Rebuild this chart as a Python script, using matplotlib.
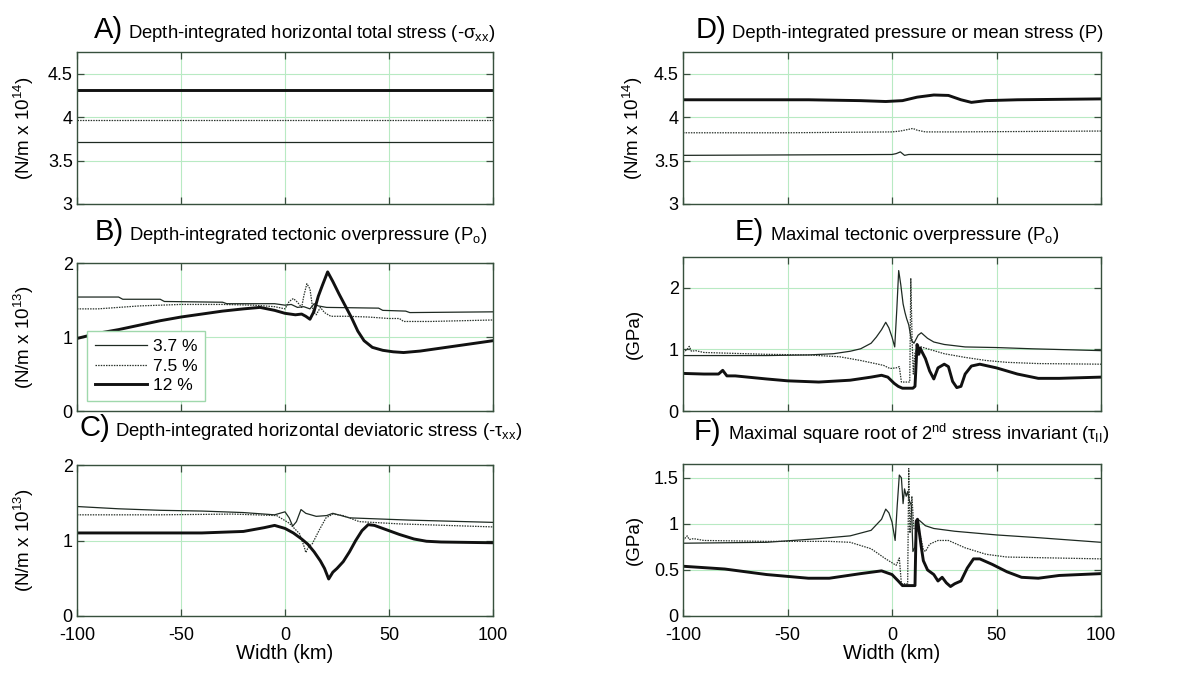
import matplotlib
matplotlib.use("Agg")
import matplotlib.pyplot as plt
from matplotlib.ticker import FuncFormatter

plt.rcParams['font.family'] = ['Liberation Sans', 'DejaVu Sans']
plt.rcParams['mathtext.fontset'] = 'custom'
plt.rcParams['mathtext.rm'] = 'Liberation Sans'
plt.rcParams['mathtext.it'] = 'Liberation Sans'
plt.rcParams['mathtext.default'] = 'regular'
plt.rcParams['axes.unicode_minus'] = False

# ---------------- data ----------------
labels = ["3.7 %", "7.5 %", "12 %"]

# A) depth-integrated horizontal total stress (N/m x 1e14)
a_x = [-100, 100]
a_37 = [3.71, 3.71]
a_75 = [3.97, 3.97]
a_12 = [4.31, 4.31]

# B) depth-integrated tectonic overpressure (N/m x 1e13)
b37_x = [-100, -80, -78, -60, -58, -30, -28, -5, 0, 3, 6, 9, 12, 14, 16, 20, 45, 47, 58, 60, 100]
b37_y = [1.54, 1.54, 1.51, 1.51, 1.48, 1.47, 1.45, 1.45, 1.43, 1.44, 1.40, 1.41, 1.38, 1.45, 1.42, 1.40, 1.39, 1.36, 1.35, 1.33, 1.34]
b75_x = [-100, -90, -70, -50, -30, -15, -5, 0, 2, 4, 6, 8, 9, 10.5, 12, 13.5, 15, 17, 19, 22, 30, 40, 50, 55, 57, 70, 100]
b75_y = [1.38, 1.38, 1.42, 1.44, 1.44, 1.43, 1.41, 1.38, 1.48, 1.52, 1.47, 1.40, 1.55, 1.72, 1.65, 1.35, 1.30, 1.40, 1.33, 1.28, 1.28, 1.27, 1.25, 1.25, 1.21, 1.21, 1.23]
b12_x = [-100, -90, -80, -70, -60, -50, -40, -30, -20, -12, -5, 0, 5, 8, 10, 12, 14, 16, 18, 20.5, 23, 26, 29, 32, 35, 38, 42, 47, 52, 57, 65, 75, 85, 100]
b12_y = [0.98, 1.05, 1.10, 1.16, 1.22, 1.27, 1.31, 1.35, 1.38, 1.40, 1.36, 1.32, 1.30, 1.31, 1.28, 1.24, 1.35, 1.55, 1.70, 1.88, 1.75, 1.58, 1.42, 1.26, 1.08, 0.95, 0.86, 0.82, 0.80, 0.79, 0.81, 0.85, 0.89, 0.95]

# C) depth-integrated horizontal deviatoric stress (N/m x 1e13)
c37_x = [-100, -80, -60, -40, -20, -5, 0, 2, 3.7, 5.5, 7.7, 10, 15, 20, 23, 27, 31, 60, 100]
c37_y = [1.45, 1.42, 1.40, 1.39, 1.37, 1.34, 1.38, 1.30, 1.19, 1.25, 1.41, 1.36, 1.32, 1.33, 1.36, 1.33, 1.30, 1.27, 1.24]
c75_x = [-100, -60, -25, -4, 2, 7, 9.3, 10, 11, 11.7, 13, 16.5, 19.7, 23, 28, 35.7, 55, 100]
c75_y = [1.34, 1.34, 1.35, 1.33, 1.23, 1.09, 0.91, 0.84, 0.90, 0.93, 0.95, 1.14, 1.30, 1.35, 1.33, 1.25, 1.22, 1.18]
c12_x = [-100, -80, -60, -40, -20, -10, -5, 0, 4, 8, 11, 14, 17, 19, 21, 23, 25, 28, 31, 34, 37, 40, 43, 48, 55, 62, 68, 75, 100]
c12_y = [1.10, 1.10, 1.10, 1.10, 1.12, 1.17, 1.20, 1.16, 1.10, 1.02, 0.95, 0.85, 0.73, 0.63, 0.49, 0.58, 0.63, 0.72, 0.85, 1.00, 1.13, 1.21, 1.20, 1.15, 1.08, 1.02, 0.99, 0.98, 0.97]

# D) depth-integrated pressure or mean stress (N/m x 1e14)
d37_x = [-100, -50, 0, 2, 4, 6, 8, 20, 100]
d37_y = [3.56, 3.565, 3.57, 3.58, 3.60, 3.56, 3.57, 3.57, 3.57]
d75_x = [-100, -50, 0, 4, 8, 10, 12, 16, 30, 100]
d75_y = [3.82, 3.82, 3.83, 3.84, 3.86, 3.87, 3.85, 3.83, 3.83, 3.84]
d12_x = [-100, -40, -15, -3, 5, 12, 20, 27, 33, 38, 45, 60, 100]
d12_y = [4.20, 4.20, 4.19, 4.18, 4.19, 4.23, 4.255, 4.25, 4.20, 4.17, 4.19, 4.20, 4.21]

# E) maximal tectonic overpressure (GPa)
e37_x = [-100, -60, -40, -28, -20, -15, -10, -7.5, -5, -3, -1.5, 0, 1.3, 2.3, 3.2, 4.2, 5.3, 6.2, 7, 8, 9.3, 10.5, 12.5, 14, 17, 20, 25, 35, 50, 67, 100]
e37_y = [0.90, 0.90, 0.91, 0.93, 0.97, 1.01, 1.10, 1.20, 1.32, 1.44, 1.35, 1.20, 1.04, 1.65, 2.28, 2.05, 1.74, 1.60, 1.50, 1.40, 1.15, 1.10, 1.23, 1.27, 1.18, 1.12, 1.08, 1.04, 1.03, 1.01, 0.98]
e75_x = [-100, -98, -97, -96, -94, -90, -80, -60, -40, -25, -15, -8, -4, -1, 2, 3.5, 4.5, 8.5, 9, 9.6, 10.2, 11, 13, 18, 25, 35, 45, 55, 70, 100]
e75_y = [0.95, 1.00, 1.05, 0.97, 0.98, 0.95, 0.94, 0.92, 0.91, 0.88, 0.82, 0.77, 0.74, 0.69, 0.70, 0.72, 0.47, 0.47, 2.15, 1.17, 0.60, 0.95, 1.05, 1.00, 0.93, 0.87, 0.82, 0.79, 0.77, 0.76]
e12_x = [-100, -90, -83, -81, -79, -75, -60, -50, -35, -20, -10, -5, -2, 1, 3, 5, 10, 11, 12, 12.8, 13.5, 14.5, 16, 18, 20, 22, 25, 27, 29, 31, 33, 35, 38, 42, 50, 60, 70, 80, 100]
e12_y = [0.61, 0.60, 0.60, 0.66, 0.57, 0.57, 0.52, 0.49, 0.47, 0.50, 0.55, 0.58, 0.55, 0.45, 0.40, 0.37, 0.37, 0.40, 1.08, 0.92, 1.02, 0.95, 0.85, 0.65, 0.52, 0.70, 0.76, 0.72, 0.48, 0.38, 0.40, 0.60, 0.73, 0.76, 0.70, 0.60, 0.53, 0.53, 0.55]

# F) maximal square root of second stress invariant (GPa)
f37_x = [-100, -60, -35, -20, -10, -5, -3, -1.5, 0, 1.5, 2.5, 3.5, 4.5, 5.3, 6, 6.8, 7.5, 8.3, 9.3, 10, 11, 12, 13, 16, 20, 30, 50, 70, 100]
f37_y = [0.79, 0.80, 0.84, 0.87, 0.93, 1.05, 1.16, 1.12, 1.02, 0.82, 1.20, 1.53, 1.50, 1.22, 1.38, 1.30, 1.35, 1.25, 1.20, 0.70, 0.75, 1.03, 1.04, 0.98, 0.95, 0.92, 0.88, 0.85, 0.80]
f75_x = [-100, -98, -97, -95, -90, -60, -30, -20, -10, -3, 2, 3.5, 4.5, 7.5, 8, 8.6, 9.5, 10.5, 12.5, 13.5, 15, 16, 18, 22, 27, 35, 45, 55, 100]
f75_y = [0.82, 0.87, 0.83, 0.84, 0.82, 0.81, 0.81, 0.80, 0.73, 0.62, 0.55, 0.63, 0.35, 0.35, 1.60, 0.90, 1.30, 0.95, 0.92, 0.88, 0.72, 0.70, 0.78, 0.82, 0.82, 0.74, 0.67, 0.64, 0.62]
f12_x = [-100, -80, -60, -40, -30, -15, -5, 0, 3, 5, 11, 11.6, 12.2, 13, 14, 15, 17, 20, 22, 24, 26, 28, 30, 33, 36, 39, 42, 48, 55, 62, 70, 80, 100]
f12_y = [0.54, 0.51, 0.45, 0.41, 0.41, 0.46, 0.49, 0.45, 0.38, 0.33, 0.33, 1.03, 1.05, 0.92, 0.75, 0.60, 0.50, 0.45, 0.38, 0.42, 0.36, 0.32, 0.35, 0.38, 0.52, 0.62, 0.62, 0.56, 0.48, 0.42, 0.41, 0.44, 0.46]

# ---------------- styling ----------------
W, H = 1198, 675
SPINE = '#37503d'
GRID = '#b8eac3'
STY = {
    '3.7': dict(color='#1e2a22', lw=0.9, ls='-'),
    '7.5': dict(color='#2a332c', lw=0.9, ls=(0, (1.2, 0.9))),
    '12': dict(color='#111111', lw=2.1, ls='-'),
}

fig = plt.figure(figsize=(W / 100, H / 100), dpi=100)
fig.patch.set_facecolor('white')


def make_axes(x0, x1, y0, y1):
    """Create axes from pixel edges (left, right, top, bottom)."""
    return fig.add_axes([x0 / W, 1 - y1 / H, (x1 - x0) / W, (y1 - y0) / H])


def style(ax, ylim, yticks, ylabel, ylabel_x, show_x):
    ax.set_xlim(-100, 100)
    ax.set_ylim(*ylim)
    ax.set_xticks([-100, -50, 0, 50, 100])
    ax.set_yticks(yticks)
    ax.yaxis.set_major_formatter(FuncFormatter(lambda v, p: f"{v:g}"))
    ax.grid(True, color=GRID, lw=0.8)
    ax.set_axisbelow(True)
    for s in ax.spines.values():
        s.set_color(SPINE)
        s.set_linewidth(1.0)
    ax.tick_params(direction='in', length=5, width=0.9, color=SPINE,
                   top=True, right=True, labelsize=13, pad=3)
    ax.tick_params(axis='x', pad=8)
    if not show_x:
        ax.tick_params(labelbottom=False)
    else:
        ax.set_xlabel("Width (km)", fontsize=14.5, labelpad=0)
    ax.set_ylabel(ylabel, fontsize=13.5)
    ax.yaxis.set_label_coords(ylabel_x, 0.5)


def plot3(ax, curves):
    lines = []
    for key, (xs, ys) in zip(['3.7', '7.5', '12'], curves):
        ln, = ax.plot(xs, ys, **STY[key])
        lines.append(ln)
    return lines


def title(tag, text, tag_right, text_left, baseline):
    fig.text(tag_right / W, 1 - baseline / H, tag, ha='right', va='baseline', fontsize=21)
    fig.text(text_left / W, 1 - baseline / H, text, ha='left', va='baseline', fontsize=13.3)


LX0, LX1 = 77, 493
RX0, RX1 = 683, 1101

axA = make_axes(LX0, LX1, 52, 204)
axB = make_axes(LX0, LX1, 263, 411)
axC = make_axes(LX0, LX1, 465, 616)
axD = make_axes(RX0, RX1, 52, 204)
axE = make_axes(RX0, RX1, 257, 411)
axF = make_axes(RX0, RX1, 464, 616)

ylab14 = "(N/m x 10$^{14}$)"
ylab13 = "(N/m x 10$^{13}$)"

plot3(axA, [(a_x, a_37), (a_x, a_75), (a_x, a_12)])
style(axA, (3, 4.75), [3, 3.5, 4, 4.5], ylab14, -0.098, False)

lnsB = plot3(axB, [(b37_x, b37_y), (b75_x, b75_y), (b12_x, b12_y)])
style(axB, (0, 2), [0, 1, 2], ylab13, -0.098, False)
leg = axB.legend(lnsB, labels, loc='lower left', bbox_to_anchor=(0.024, 0.068),
                 borderaxespad=0, fontsize=12.5, handlelength=3.0, handletextpad=0.35,
                 labelspacing=0.25, borderpad=0.45, fancybox=False, framealpha=1)
leg.get_frame().set_edgecolor('#9fd8ac')
leg.get_frame().set_linewidth(1.0)

plot3(axC, [(c37_x, c37_y), (c75_x, c75_y), (c12_x, c12_y)])
style(axC, (0, 2), [0, 1, 2], ylab13, -0.098, True)

plot3(axD, [(d37_x, d37_y), (d75_x, d75_y), (d12_x, d12_y)])
style(axD, (3, 4.75), [3, 3.5, 4, 4.5], ylab14, -0.092, False)

plot3(axE, [(e37_x, e37_y), (e75_x, e75_y), (e12_x, e12_y)])
style(axE, (0, 2.5), [0, 1, 2], "(GPa)", -0.097, False)

plot3(axF, [(f37_x, f37_y), (f75_x, f75_y), (f12_x, f12_y)])
style(axF, (0, 1.65), [0, 0.5, 1, 1.5], "(GPa)", -0.097, True)

title("A)", "Depth-integrated horizontal total stress (-$\\sigma_{xx}$)", 123, 128, 38)
title("B)", "Depth-integrated tectonic overpressure (P$_{o}$)", 124, 129, 240)
title("C)", "Depth-integrated horizontal deviatoric stress (-$\\tau_{xx}$)", 110, 115, 436)
title("D)", "Depth-integrated pressure or mean stress (P)", 726, 732, 38)
title("E)", "Maximal tectonic overpressure (P$_{o}$)", 764, 770, 240)
title("F)", "Maximal square root of 2$^{nd}$ stress invariant ($\\tau_{II}$)", 721, 728, 440)

fig.savefig("out.png", dpi=100)
